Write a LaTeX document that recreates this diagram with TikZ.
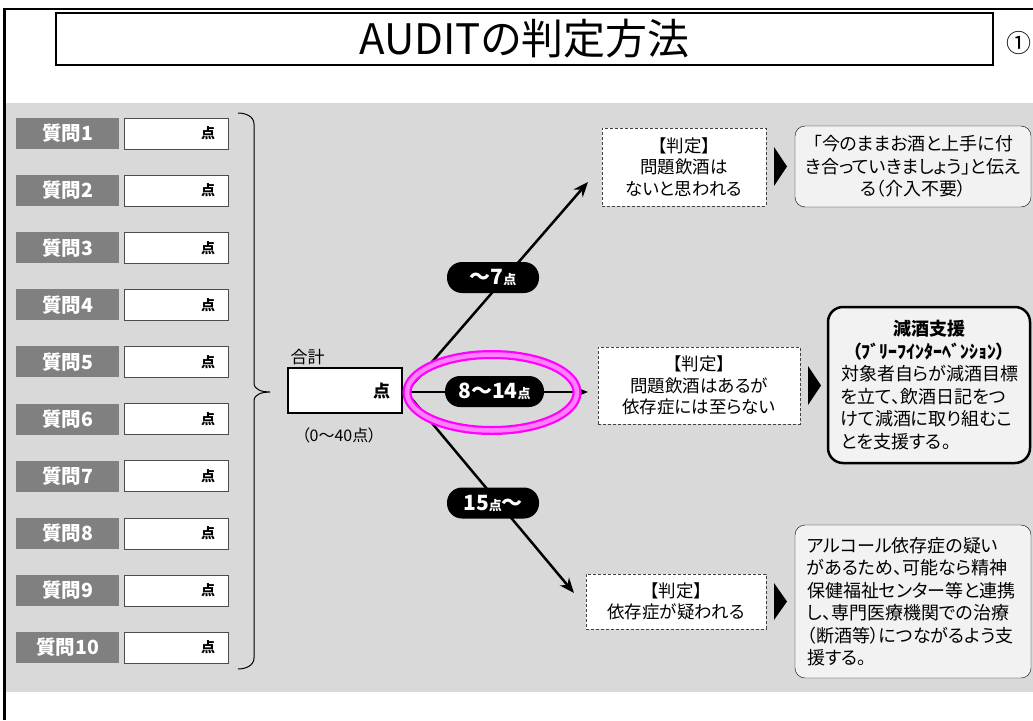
\documentclass[tikz,border=0pt]{standalone}
\usepackage{fontspec}
\setmainfont{Noto Sans CJK JP}[RawFeature=+palt]
\usetikzlibrary{arrows.meta}

\definecolor{bggray}{HTML}{D9D9D9}
\definecolor{qgray}{HTML}{808080}
\definecolor{notegray}{HTML}{F2F2F2}
\definecolor{ring}{HTML}{FF00FF}

\begin{document}
\begin{tikzpicture}[x=1pt,y=-1pt,
  qlabel/.style={fill=qgray, text=white, font=\fontsize{19.5}{21}\selectfont\bfseries, minimum width=103pt, minimum height=31pt, inner sep=0pt},
  qbox/.style={draw=black!70, fill=white, minimum width=104pt, minimum height=31pt, text width=78pt, align=right, inner sep=0pt, font=\fontsize{14}{16}\selectfont\bfseries},
  pill/.style={fill=black, text=white, rounded corners=15pt, minimum width=92pt, minimum height=31pt, inner sep=0pt, font=\fontsize{21}{22}\selectfont\bfseries},
  judge/.style={draw=black!75, dash pattern=on 3pt off 2pt, fill=white, align=center, inner sep=0pt, font=\fontsize{17.5}{21.5}\selectfont},
  advice/.style={draw, fill=notegray, rounded corners=10pt, inner sep=0pt, font=\fontsize{18}{22.5}\selectfont},
  branch/.style={line width=2.5pt, -{Stealth[length=15pt,width=12pt]}},
]
\def \rowgap {57.1}
\useasboundingbox (0,0) rectangle (1033,720);

% frame and title
\fill[bggray] (6,103) rectangle (1033,692);
\draw[line width=2.5pt] (4.5,720) -- (4.5,9) -- (1040,9);
\node[draw, line width=2.5pt, fill=white, minimum width=937pt, minimum height=52pt, font=\fontsize{42}{44}\selectfont] at (524.5,39) (title) {AUDITの判定方法};
\node[anchor=east, inner sep=1pt, font=\fontsize{25}{26}\selectfont] at (1033,43) (pageno) {①};

% questions
\foreach \i in {1,...,10} {
  \pgfmathsetmacro\yy{133.5+\rowgap*(\i-1)}
  \node[qlabel] at (67.5,\yy) (q\i) {質問\i};
  \node[qbox] at (176,\yy) (s\i) {点};
}
\draw[line width=1pt] (238,113) to[out=0,in=90] (254,124) -- (254,383)
  to[out=-90,in=180] (270,392) to[out=180,in=90] (254,401) -- (254,658)
  to[out=-90,in=0] (238,669);

% total
\node[anchor=west, font=\fontsize{17}{20}\selectfont] at (287,357) (sumlabel) {合計};
\node[draw, line width=2.5pt, fill=white, minimum width=114pt, minimum height=45pt, text width=90pt, align=right, inner sep=0pt, font=\fontsize{17}{20}\selectfont\bfseries] at (345,390.5) (total) {点};
\node[font=\fontsize{16}{20}\selectfont] at (339,435) (range) {（0〜40点）};

% judgements
\node[judge, minimum width=164pt, minimum height=78pt] at (684,167) (j1) {【判定】\\問題飲酒は\\ないと思われる};
\node[judge, minimum width=202pt, minimum height=77pt] at (699,385.5) (j2) {【判定】\\問題飲酒はあるが\\依存症には至らない};
\node[judge, minimum width=180pt, minimum height=55pt] at (676,601.5) (j3) {【判定】\\依存症が疑われる};

\fill (774,147) -- (787,166.5) -- (774,186) -- cycle;
\fill (808,366) -- (821,385.5) -- (808,405) -- cycle;
\fill (774,583) -- (787,601.5) -- (774,620) -- cycle;

\node[advice, minimum width=236pt, minimum height=81pt, align=center] at (913,166.5) (a1) {「今のままお酒と上手に付\\き合っていきましょう」と伝え\\る（介入不要）};
\node[advice, line width=2.5pt, rounded corners=15pt, minimum width=202pt, minimum height=156pt, text width=176pt, align=left] at (929,385) (a2) {{\centering\bfseries 減酒支援\\（ﾌﾞﾘｰﾌｲﾝﾀｰﾍﾞﾝｼｮﾝ）\par}対象者自らが減酒目標\\を立て、飲酒日記をつ\\けて減酒に取り組むこ\\とを支援する。};
\node[advice, minimum width=236pt, minimum height=153pt, text width=212pt, align=left] at (913,601.5) (a3) {アルコール依存症の疑い\\があるため、可能なら精神\\保健福祉センター等と連携\\し、専門医療機関での治療\\（断酒等）につながるよう支\\援する。};

% branches
\coordinate (fork) at (406,392);
\coordinate (t1) at (588,182);
\coordinate (t2) at (588,392);
\coordinate (t3) at (574,593);
\draw[branch] (fork) -- (t1);
\draw[branch] (fork) -- (t2);
\draw[branch] (fork) -- (t3);

\node[pill] at (493,277.5) (r1) {〜7{\fontsize{13}{13}\selectfont 点}};
\node[pill, minimum width=99pt] at (494.5,391.5) (r2) {8〜14{\fontsize{13}{13}\selectfont 点}};
\node[pill] at (493,503) (r3) {15{\fontsize{13}{13}\selectfont 点}〜};

\draw[ring, line width=9pt] (492,392.5) ellipse [x radius=85pt, y radius=38pt];
\draw[ring!50, line width=4.5pt] (492,392.5) ellipse [x radius=85pt, y radius=38pt];

\end{tikzpicture}
\end{document}
